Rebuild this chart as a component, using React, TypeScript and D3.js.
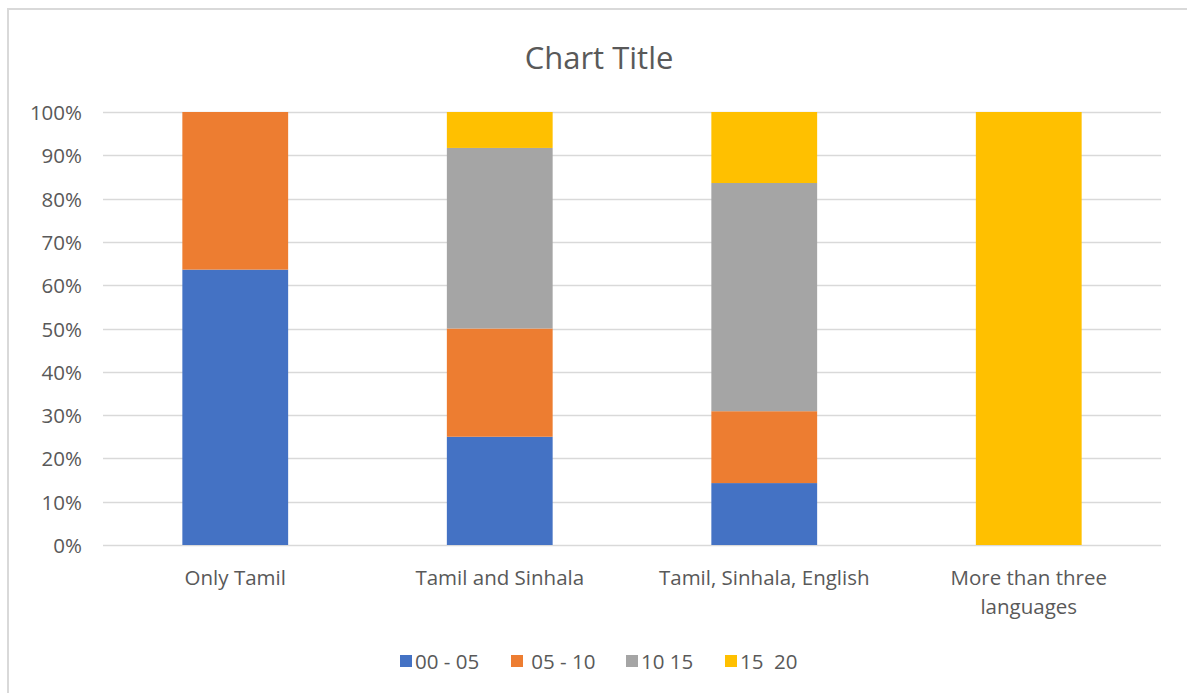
import * as d3 from "d3";
import { useEffect, useRef } from "react";

const categories = [
  ["Only Tamil"],
  ["Tamil and Sinhala"],
  ["Tamil, Sinhala, English"],
  ["More than three", "languages"],
];
const seriesNames = ["00 - 05", " 05 - 10", "10 15", "15  20"];
const seriesColors = ["#4472c4", "#ed7d31", "#a5a5a5", "#ffc000"];

// shares per category, in percent
const s0005 = [63.6, 25, 14.3, 0];
const s0510 = [36.4, 25, 16.6, 0];
const s1015 = [0, 41.7, 52.7, 0];
const s1520 = [0, 8.3, 16.4, 100];

const yTicks = [0, 10, 20, 30, 40, 50, 60, 70, 80, 90, 100];

const W = 1187;
const H = 693;
const FONT = "'Open Sans', 'Liberation Sans', sans-serif";

export default function App() {
  const svgRef = useRef<SVGSVGElement>(null);

  useEffect(() => {
    if (!svgRef.current) return;
    const svg = d3.select(svgRef.current);
    svg.selectAll("*").remove();

    const left = 103;
    const right = 1161;
    const top = 112;
    const bottom = 545;

    // chart frame
    svg
      .append("path")
      .attr("d", `M8,${H} L8,9 L${W},9`)
      .attr("fill", "none")
      .attr("stroke", "#d9d9d9")
      .attr("stroke-width", 2);

    svg
      .append("text")
      .attr("x", 599)
      .attr("y", 57)
      .attr("text-anchor", "middle")
      .attr("dominant-baseline", "central")
      .attr("font-family", FONT)
      .attr("font-size", "31px")
      .attr("fill", "#595959")
      .text("Chart Title");

    const x = d3
      .scaleBand<number>()
      .domain(categories.map((_, i) => i))
      .range([left, right])
      .paddingInner(0.6)
      .paddingOuter(0.3);

    const y = d3.scaleLinear().domain([0, 100]).range([bottom, top]);

    // gridlines
    svg
      .append("g")
      .selectAll("line")
      .data(yTicks)
      .join("line")
      .attr("x1", left)
      .attr("x2", right)
      .attr("y1", (d) => Math.round(y(d)) + 0.5)
      .attr("y2", (d) => Math.round(y(d)) + 0.5)
      .attr("stroke", "#d9d9d9")
      .attr("stroke-width", 1.5);

    svg
      .append("g")
      .selectAll("text")
      .data(yTicks)
      .join("text")
      .attr("x", 82)
      .attr("y", (d) => y(d))
      .attr("text-anchor", "end")
      .attr("dominant-baseline", "central")
      .attr("font-family", FONT)
      .attr("font-size", "20.5px")
      .attr("fill", "#595959")
      .text((d) => `${d}%`);

    const rows = categories.map((_, i) => ({
      i,
      a: s0005[i],
      b: s0510[i],
      c: s1015[i],
      d: s1520[i],
    }));
    const stack = d3.stack<any>().keys(["a", "b", "c", "d"]);
    const layers = stack(rows);

    layers.forEach((layer, k) => {
      svg
        .append("g")
        .selectAll("rect")
        .data(layer.filter((p) => p[1] - p[0] > 0))
        .join("rect")
        .attr("x", (p) => x(p.data.i)!)
        .attr("width", x.bandwidth())
        .attr("y", (p) => y(p[1]))
        .attr("height", (p) => y(p[0]) - y(p[1]))
        .attr("fill", seriesColors[k]);
    });

    // category labels
    const cat = svg.append("g");
    categories.forEach((lines, i) => {
      lines.forEach((ln, j) => {
        cat
          .append("text")
          .attr("x", x(i)! + x.bandwidth() / 2)
          .attr("y", 577 + j * 29)
          .attr("text-anchor", "middle")
          .attr("dominant-baseline", "central")
          .attr("font-family", FONT)
          .attr("font-size", "20.5px")
          .attr("fill", "#595959")
          .text(ln);
      });
    });

    // legend
    const legendX = [400, 511, 626, 725];
    const lg = svg.append("g");
    seriesNames.forEach((name, k) => {
      lg.append("rect")
        .attr("x", legendX[k])
        .attr("y", 655)
        .attr("width", 12)
        .attr("height", 12)
        .attr("fill", seriesColors[k]);
      lg.append("text")
        .attr("x", legendX[k] + 15)
        .attr("y", 661)
        .attr("dominant-baseline", "central")
        .attr("font-family", FONT)
        .attr("font-size", "20.5px")
        .attr("fill", "#595959")
        .style("white-space", "pre")
        .text(name);
    });
  }, []);

  return (
    <svg
      ref={svgRef}
      width={W}
      height={H}
      style={{ position: "absolute", left: 0, top: 0, background: "#fff" }}
    />
  );
}
